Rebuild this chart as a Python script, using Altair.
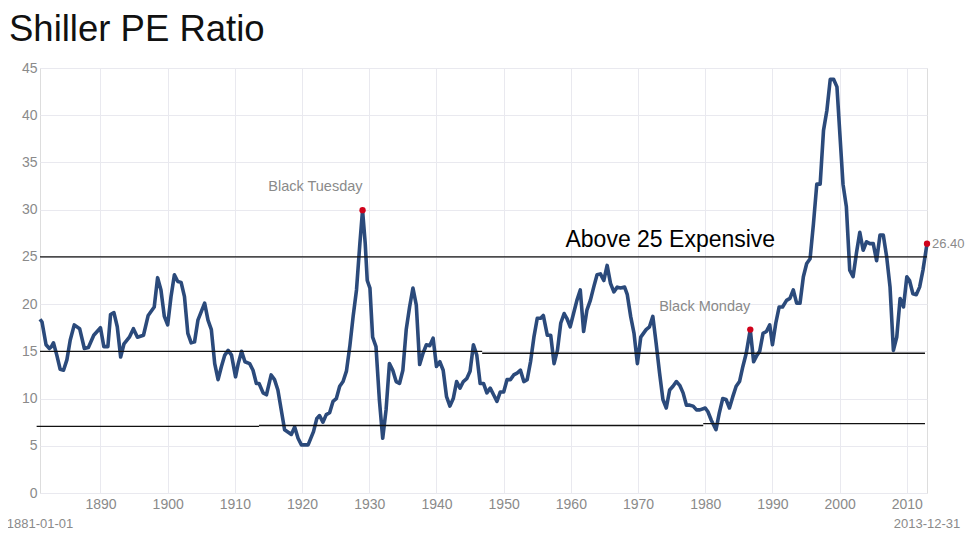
import altair as alt
import pandas as pd

# ---- data ----
years = [1881.0, 1881.3, 1881.9, 1882.4, 1882.7, 1883.0, 1883.5, 1884.0, 1884.5, 1885.0,
         1885.5, 1886.1, 1886.9, 1887.6, 1888.2, 1889.0, 1890.0, 1890.5, 1891.1, 1891.5,
         1892.0, 1892.5, 1893.0, 1893.5, 1894.3, 1894.9, 1895.5, 1896.4, 1897.1, 1898.0,
         1898.5, 1899.0, 1899.5, 1900.0, 1900.5, 1901.0, 1901.5, 1902.0, 1902.5, 1903.0,
         1903.5, 1904.0, 1904.5, 1905.5, 1906.0, 1906.5, 1907.0, 1907.5, 1908.0, 1908.5,
         1909.0, 1909.5, 1910.1, 1910.5, 1911.0, 1911.5, 1912.2, 1912.7, 1913.2, 1913.6,
         1914.2, 1914.7, 1915.4, 1915.9, 1916.4, 1917.4, 1918.2, 1918.4, 1918.9, 1919.4,
         1919.9, 1920.9, 1921.7, 1922.2, 1922.6, 1923.1, 1923.6, 1924.1, 1924.6, 1925.1,
         1925.6, 1926.1, 1926.6, 1927.1, 1927.6, 1928.1, 1928.6, 1929.0, 1929.4, 1929.7,
         1930.1, 1930.5, 1931.0, 1931.5, 1932.0, 1932.5, 1933.0, 1933.5, 1934.0, 1934.5,
         1935.0, 1935.5, 1936.0, 1936.5, 1937.0, 1937.5, 1938.0, 1938.5, 1939.0, 1939.5,
         1940.0, 1940.5, 1941.0, 1941.5, 1942.0, 1942.5, 1943.0, 1943.5, 1944.0, 1944.5,
         1945.0, 1945.5, 1946.0, 1946.5, 1947.0, 1947.5, 1948.0, 1948.5, 1949.0, 1949.5,
         1950.0, 1950.5, 1951.0, 1951.5, 1952.0, 1952.5, 1953.0, 1953.5, 1954.0, 1954.5,
         1955.0, 1955.5, 1955.9, 1956.5, 1957.0, 1957.5, 1958.0, 1958.5, 1959.0, 1959.4,
         1959.9, 1960.4, 1960.9, 1961.4, 1961.9, 1962.4, 1962.9, 1963.4, 1963.9, 1964.4,
         1964.9, 1965.4, 1965.9, 1966.4, 1966.9, 1967.4, 1968.0, 1968.4, 1968.9, 1969.4,
         1969.9, 1970.4, 1971.2, 1971.7, 1972.2, 1972.7, 1973.2, 1973.7, 1974.2, 1974.7,
         1975.2, 1975.7, 1976.2, 1976.7, 1977.2, 1977.7, 1978.2, 1978.7, 1979.2, 1980.0,
         1980.4, 1980.9, 1981.6, 1982.1, 1982.6, 1983.1, 1983.6, 1984.1, 1984.6, 1985.1,
         1985.6, 1986.1, 1986.7, 1987.2, 1987.7, 1988.1, 1988.6, 1989.1, 1989.6, 1990.0,
         1990.5, 1991.0, 1991.5, 1992.1, 1992.6, 1993.1, 1993.6, 1994.1, 1994.6, 1995.1,
         1995.6, 1996.1, 1996.6, 1997.1, 1997.6, 1998.1, 1998.6, 1999.1, 1999.6, 2000.0,
         2000.5, 2001.0, 2001.5, 2002.0, 2002.5, 2003.0, 2003.5, 2004.0, 2004.5, 2005.0,
         2005.5, 2006.0, 2006.5, 2007.0, 2007.5, 2008.0, 2008.5, 2009.0, 2009.5, 2010.0,
         2010.4, 2010.9, 2011.4, 2011.9, 2012.4, 2013.0]

pe = [18.4, 18.1, 15.7, 15.3, 15.5, 15.9, 14.6, 13.1, 13.0, 14.1,
      16.2, 17.8, 17.4, 15.3, 15.4, 16.7, 17.5, 15.5, 15.5, 18.9,
      19.1, 17.6, 14.4, 15.8, 16.5, 17.4, 16.5, 16.7, 18.8, 19.7,
      22.8, 21.5, 18.7, 17.8, 20.8, 23.1, 22.4, 22.3, 20.8, 16.9,
      15.9, 16.0, 18.3, 20.1, 18.3, 17.3, 13.7, 12.0, 13.4, 14.6,
      15.1, 14.6, 12.3, 13.7, 15.0, 13.9, 13.7, 13.0, 11.6, 11.6,
      10.6, 10.4, 12.5, 12.0, 10.9, 6.7, 6.3, 6.2, 7.0, 5.8,
      5.1, 5.1, 6.5, 7.9, 8.2, 7.5, 8.3, 8.5, 9.7, 10.0,
      11.3, 11.8, 12.9, 15.5, 18.7, 21.5, 26.4, 29.95, 26.4, 22.5,
      21.7, 16.5, 15.5, 9.9, 5.8, 8.8, 13.7, 13.0, 11.8, 11.6,
      13.0, 17.3, 19.7, 21.7, 19.9, 13.6, 14.8, 15.7, 15.6, 16.4,
      13.4, 13.9, 13.0, 10.2, 9.2, 10.0, 11.8, 11.1, 11.8, 12.1,
      12.9, 15.7, 14.6, 11.6, 11.6, 10.6, 11.1, 10.4, 9.7, 10.7,
      10.7, 12.0, 12.0, 12.5, 12.7, 13.0, 11.8, 12.0, 13.9, 16.5,
      18.5, 18.5, 18.8, 16.7, 16.7, 13.7, 15.1, 18.0, 19.0, 18.5,
      17.6, 19.0, 20.4, 21.5, 17.1, 19.4, 20.4, 21.8, 23.1, 23.2,
      22.5, 24.1, 22.2, 21.3, 21.8, 21.7, 21.8, 21.0, 18.7, 16.9,
      13.7, 16.5, 17.3, 17.6, 18.7, 15.8, 12.7, 9.9, 9.0, 10.9,
      11.3, 11.8, 11.4, 10.6, 9.3, 9.3, 9.2, 8.8, 8.8, 9.0,
      8.6, 7.7, 6.7, 8.5, 10.0, 9.9, 9.0, 10.2, 11.3, 11.8,
      13.4, 14.8, 17.3, 13.9, 14.6, 15.0, 16.9, 17.1, 17.8, 15.7,
      18.0, 19.7, 19.7, 20.4, 20.6, 21.5, 20.1, 20.1, 22.9, 24.3,
      24.8, 28.5, 32.7, 32.7, 38.4, 40.5, 43.8, 43.8, 43.0, 38.4,
      32.7, 30.3, 23.6, 22.9, 25.4, 27.6, 25.7, 26.6, 26.4, 26.4,
      24.6, 27.3, 27.3, 25.0, 21.8, 15.1, 16.5, 20.6, 19.7, 22.9,
      22.5, 21.1, 21.0, 21.8, 23.6, 26.4]

# reference lines (start year, end year, level)
ref_start = [1881.0, 1881.0, 1946.8, 1880.5, 1913.6, 1979.7]
ref_end = [2013.0, 1946.8, 2012.7, 1913.6, 1979.7, 2012.7]
ref_level = [25.0, 15.0, 14.8, 7.05, 7.15, 7.35]

# highlighted points
mark_year = [1929.0, 1986.7, 2013.0]
mark_value = [29.95, 17.3, 26.4]
mark_label = ["Black Tuesday", "Black Monday", "26.40"]

x_ticks = [1890, 1900, 1910, 1920, 1930, 1940, 1950, 1960, 1970, 1980, 1990, 2000, 2010]
y_ticks = [0, 5, 10, 15, 20, 25, 30, 35, 40, 45]

date_years = [1881.0, 2013.0]
date_labels = ["1881-01-01", "2013-12-31"]

title_text = "Shiller PE Ratio"

# ---- tables ----
df = pd.DataFrame({"year": years, "pe": pe})
refs = pd.DataFrame({"start": ref_start, "end": ref_end, "level": ref_level})
marks = pd.DataFrame({"year": mark_year, "pe": mark_value, "label": mark_label})
dates = pd.DataFrame({"year": date_years, "label": date_labels})
expensive = pd.DataFrame({"year": [1974.8], "pe": [25.0], "label": ["Above 25 Expensive"]})
titles = pd.DataFrame({"label": [title_text]})

W, H = 887, 425
FONT = "Liberation Sans"
GRAY = "#8a8a8a"

xscale = alt.Scale(domain=[1881, 2013], nice=False, zero=False)
yscale = alt.Scale(domain=[0, 45], nice=False)

xaxis = alt.Axis(values=x_ticks, format="d", title=None, ticks=False, domain=False,
                 labelColor=GRAY, labelFontSize=14, labelPadding=4, gridColor="#e9e9ef")
yaxis = alt.Axis(values=y_ticks, title=None, ticks=False, domain=False,
                 labelColor=GRAY, labelFontSize=14, labelPadding=3, gridColor="#e9e9ef")

line = alt.Chart(df).mark_line(color="#2b4a7b", strokeWidth=3.6, strokeJoin="round").encode(
    x=alt.X("year:Q", scale=xscale, axis=xaxis),
    y=alt.Y("pe:Q", scale=yscale, axis=yaxis),
)

rules = alt.Chart(refs).mark_rule(color="#111111", strokeWidth=1.4).encode(
    x=alt.X("start:Q", scale=xscale),
    x2="end:Q",
    y=alt.Y("level:Q", scale=yscale),
)

dots = alt.Chart(marks).mark_circle(color="#d0021b", size=40, opacity=1).encode(
    x=alt.X("year:Q", scale=xscale),
    y=alt.Y("pe:Q", scale=yscale),
)

event_labels = alt.Chart(marks[marks["label"] != "26.40"]).mark_text(
    align="right", baseline="middle", dy=-23, fontSize=14.5, font=FONT, color=GRAY
).encode(
    x=alt.X("year:Q", scale=xscale),
    y=alt.Y("pe:Q", scale=yscale),
    text="label:N",
)

last_label = alt.Chart(marks[marks["label"] == "26.40"]).mark_text(
    align="left", baseline="middle", dx=5, fontSize=13, font=FONT, color=GRAY
).encode(
    x=alt.X("year:Q", scale=xscale),
    y=alt.Y("pe:Q", scale=yscale),
    text="label:N",
)

exp_label = alt.Chart(expensive).mark_text(
    align="center", baseline="bottom", dy=-5, fontSize=23, font=FONT, color="#000000"
).encode(
    x=alt.X("year:Q", scale=xscale),
    y=alt.Y("pe:Q", scale=yscale),
    text="label:N",
)

date_text = alt.Chart(dates).mark_text(
    align="center", baseline="middle", fontSize=13, font=FONT, color=GRAY
).encode(
    x=alt.X("year:Q", scale=xscale),
    y=alt.value(H + 31),
    text="label:N",
)

title_mark = alt.Chart(titles).mark_text(
    align="left", baseline="alphabetic", fontSize=36.5, font=FONT, color="#111111"
).encode(
    x=alt.value(-31),
    y=alt.value(-27),
    text="label:N",
)

chart = alt.layer(line, rules, dots, event_labels, last_label, exp_label, date_text, title_mark).properties(
    width=W,
    height=H,
    autosize=alt.AutoSizeParams(type="none"),
    padding={"left": 32, "top": 60, "right": 38, "bottom": 44},
).configure_view(stroke="#e6e6ee").configure(font=FONT, background="white")

chart.save("out.html", embed_options={"renderer": "svg", "actions": False})
